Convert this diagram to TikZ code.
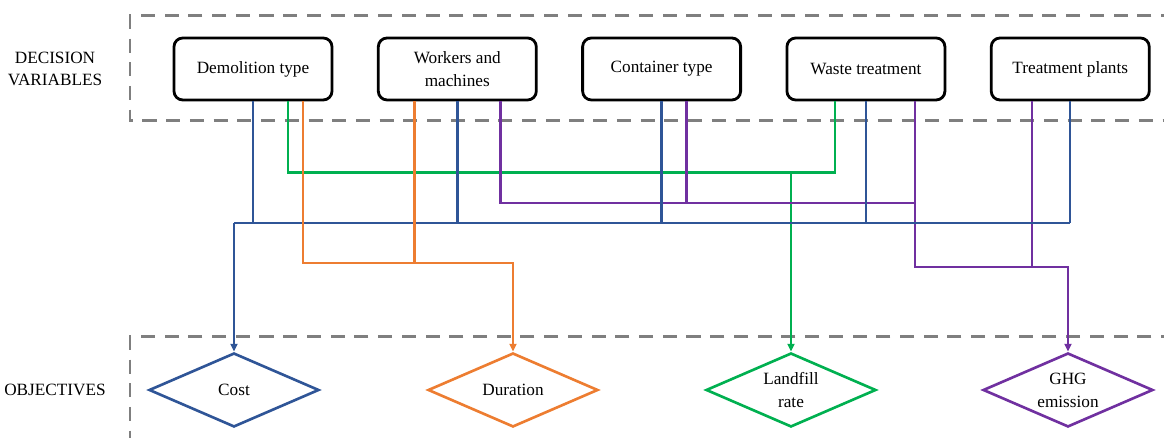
\documentclass[tikz,border=0pt]{standalone}
\usepackage{fontspec}
\setmainfont{Liberation Serif}
\usetikzlibrary{shapes.geometric, arrows.meta, positioning}
\definecolor{costblue}{HTML}{2F5597}
\definecolor{duraorange}{HTML}{ED7D31}
\definecolor{landgreen}{HTML}{00B050}
\definecolor{ghgpurple}{HTML}{7030A0}
\definecolor{framegray}{HTML}{7F7F7F}

\begin{document}
\begin{tikzpicture}[
    font=\fontsize{9.8}{13}\selectfont,
    var/.style={draw, line width=1.6pt, rounded corners=5pt, minimum width=3.16cm, minimum height=1.24cm, align=center},
    obj/.style={diamond, aspect=2.3, draw=#1, line width=1.5pt, minimum width=3.4cm, minimum height=1.48cm, inner sep=0pt, align=center},
    link/.style={line width=1.4pt},
    frame/.style={draw=framegray, line width=1.7pt, dash pattern=on 8pt off 5.5pt},
    >={Triangle[length=4.5pt,width=4pt]}
]
    \useasboundingbox (0,0) rectangle (23.28,8.76);

    % dashed frames
    \draw[frame] (23.5,8.44) -- (2.6,8.44) -- (2.6,6.34) -- (23.5,6.34);
    \draw[frame] (23.5,2.02) -- (2.6,2.02) -- (2.6,-0.2);

    % side labels
    \node[align=center] (dvlabel) at (1.1,7.38) {DECISION\\VARIABLES};
    \node (oblabel) at (1.1,0.96) {OBJECTIVES};

    % decision variables
    \node[var] (demo) at (5.06,7.38) {Demolition type};
    \node[var, right=0.87cm of demo] (work) {Workers and\\machines};
    \node[var, right=0.87cm of work] (cont) {Container type};
    \node[var, right=0.87cm of cont] (waste) {Waste treatment};
    \node[var, right=0.87cm of waste] (plant) {Treatment plants};

    % objectives
    \node[obj=costblue] (cost) at (4.68,0.96) {Cost};
    \node[obj=duraorange] (dura) at (10.26,0.96) {Duration};
    \node[obj=landgreen] (land) at (15.82,0.96) {Landfill\\rate};
    \node[obj=ghgpurple] (ghg) at (21.36,0.96) {GHG\\emission};

    % pick-off points under the boxes
    \coordinate (demo-l) at ([xshift=7mm]demo.south);
    \coordinate (demo-d) at ([xshift=10mm]demo.south);
    \coordinate (work-d) at ([xshift=-8.6mm]work.south);
    \coordinate (work-e) at ([xshift=8.6mm]work.south);
    \coordinate (cont-e) at ([xshift=5mm]cont.south);
    \coordinate (waste-l) at ([xshift=-6.2mm]waste.south);
    \coordinate (waste-e) at ([xshift=9.8mm]waste.south);
    \coordinate (plant-e) at ([xshift=-7.6mm]plant.south);

    % bus levels
    \coordinate (busL) at (0,5.31);
    \coordinate (busE) at (0,4.70);
    \coordinate (busC) at (0,4.30);
    \coordinate (busD) at (0,3.50);
    \coordinate (busG) at (0,3.42);

    % landfill rate
    \draw[link, landgreen] (demo-l) |- (land.north |- busL) -| (waste-l);
    \draw[link, landgreen, ->] (land.north |- busL) -- (land.north);

    % emission
    \draw[link, ghgpurple] (work-e) |- (waste-e |- busE);
    \draw[link, ghgpurple] (cont-e) -- (cont-e |- busE);
    \draw[link, ghgpurple, ->] (waste-e) |- (ghg.north |- busG) -- (ghg.north);
    \draw[link, ghgpurple] (plant-e) -- (plant-e |- busG);

    % cost
    \foreach \n in {demo, work, cont, waste, plant}
        \draw[link, costblue] (\n.south) -- (\n.south |- busC);
    \draw[link, costblue] (cost.north |- busC) -- (plant.south |- busC);
    \draw[link, costblue, ->] (cost.north |- busC) -- (cost.north);

    % duration
    \draw[link, duraorange, ->] (demo-d) |- (dura.north |- busD) -- (dura.north);
    \draw[link, duraorange] (work-d) -- (work-d |- busD);
\end{tikzpicture}
\end{document}
